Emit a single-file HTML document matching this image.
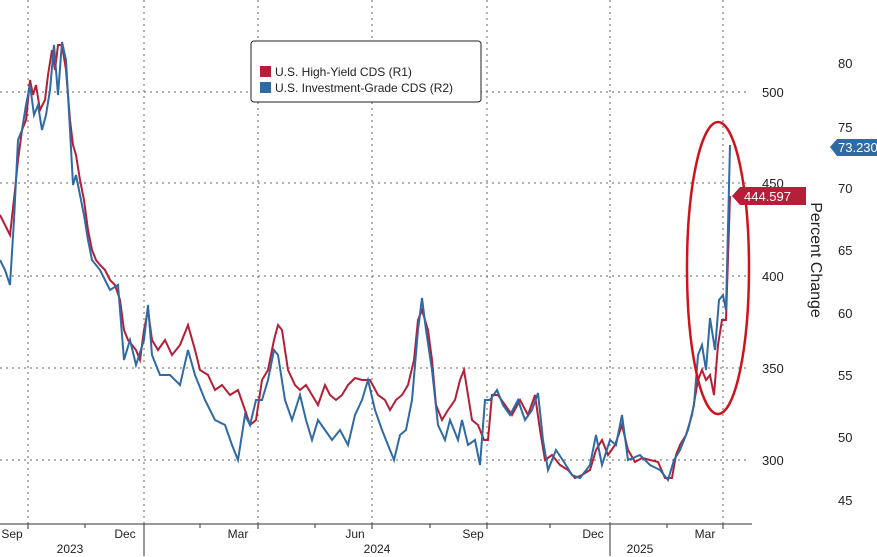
<!DOCTYPE html>
<html><head><style>body{margin:0;background:#fff}svg{display:block}text{font-family:"Liberation Sans",sans-serif;fill:#222}</style></head><body>
<svg width="877" height="557" viewBox="0 0 877 557">
<g stroke="#666" stroke-width="1" stroke-dasharray="2,4">
<line x1="0" y1="92" x2="750" y2="92"/><line x1="0" y1="183" x2="750" y2="183"/><line x1="0" y1="276" x2="750" y2="276"/><line x1="0" y1="368" x2="750" y2="368"/><line x1="0" y1="460" x2="750" y2="460"/>
<line x1="28" y1="0" x2="28" y2="524"/><line x1="144" y1="0" x2="144" y2="524"/><line x1="258" y1="0" x2="258" y2="524"/><line x1="372" y1="0" x2="372" y2="524"/><line x1="487" y1="0" x2="487" y2="524"/><line x1="610" y1="0" x2="610" y2="524"/><line x1="723" y1="0" x2="723" y2="524"/>
</g>
<line x1="0" y1="524" x2="752" y2="524" stroke="#333"/>
<g stroke="#333"><line x1="28" y1="524" x2="28" y2="529"/><line x1="144" y1="524" x2="144" y2="556"/><line x1="258" y1="524" x2="258" y2="529"/><line x1="372" y1="524" x2="372" y2="529"/><line x1="487" y1="524" x2="487" y2="529"/><line x1="610" y1="524" x2="610" y2="556"/><line x1="723" y1="524" x2="723" y2="529"/><line x1="85" y1="524" x2="85" y2="528"/><line x1="200" y1="524" x2="200" y2="528"/><line x1="315" y1="524" x2="315" y2="528"/><line x1="430" y1="524" x2="430" y2="528"/><line x1="550" y1="524" x2="550" y2="528"/><line x1="667" y1="524" x2="667" y2="528"/></g>
<g font-size="12" text-anchor="middle"><text x="12" y="538">Sep</text><text x="125" y="538">Dec</text><text x="238" y="538">Mar</text><text x="355" y="538">Jun</text><text x="473" y="538">Sep</text><text x="593" y="538">Dec</text><text x="705" y="538">Mar</text>
<text x="70" y="553">2023</text><text x="377" y="553">2024</text><text x="640" y="553">2025</text></g>
<g font-size="13"><text x="762" y="97">500</text><text x="762" y="188">450</text><text x="762" y="281">400</text><text x="762" y="373">350</text><text x="762" y="465">300</text>
<text x="838" y="68">80</text><text x="838" y="132">75</text><text x="838" y="193">70</text><text x="838" y="255">65</text><text x="838" y="318">60</text><text x="838" y="380">55</text><text x="838" y="442">50</text><text x="838" y="505">45</text></g>
<text transform="translate(811,260) rotate(90)" font-size="16" text-anchor="middle">Percent Change</text>
<polyline fill="none" stroke="#b51e36" stroke-width="2" points="0,215 5,225 10,235 15,190 18,160 22,130 26,120 30,80 33,95 36,85 40,110 45,100 48,75 52,50 55,70 58,45 62,45 66,70 70,120 73,145 76,155 80,180 84,200 88,230 92,250 96,260 100,265 105,270 110,280 115,285 120,300 124,330 128,340 132,345 136,350 140,360 144,330 148,310 152,340 158,350 165,340 172,355 180,345 188,325 195,350 200,370 208,375 215,390 222,385 230,395 238,390 245,410 250,425 256,420 262,380 268,370 274,340 278,325 282,330 288,370 295,385 300,390 306,385 312,395 318,405 325,385 330,395 336,400 342,395 348,385 355,378 362,380 370,380 378,395 385,400 390,410 396,400 402,395 408,385 414,360 418,320 422,310 428,330 432,360 436,405 442,420 448,410 455,400 460,380 464,370 468,395 472,420 478,425 484,440 488,440 492,395 498,395 505,405 512,415 520,400 528,415 535,395 540,430 545,460 552,455 560,465 568,470 575,478 582,475 590,470 596,450 602,440 608,455 615,445 622,425 628,450 635,462 642,458 650,460 658,462 665,478 672,478 676,455 680,445 686,435 692,415 698,380 702,370 706,380 710,375 714,395 718,345 722,320 726,320 730,196"/>
<polyline fill="none" stroke="#2f6aa3" stroke-width="2" points="0,260 5,270 10,285 14,220 18,140 22,130 26,105 30,85 34,115 38,105 42,130 46,115 50,90 54,45 58,95 62,42 66,60 70,130 73,185 76,175 80,195 84,215 88,240 92,260 100,270 110,290 118,285 124,360 130,340 136,365 144,340 148,305 152,355 160,375 170,375 180,385 188,350 195,375 205,400 215,420 225,425 232,445 238,460 245,415 250,425 256,400 262,400 268,380 274,350 278,355 285,400 292,420 300,395 306,420 312,440 318,420 325,430 332,440 340,430 348,445 355,415 362,400 368,380 375,410 382,430 388,445 394,460 400,435 406,430 412,400 418,330 422,298 426,330 432,370 438,425 445,440 450,420 458,440 462,420 468,445 475,440 480,465 485,400 490,400 497,390 503,405 510,415 518,400 525,420 532,410 538,393 543,440 548,470 556,450 564,462 572,475 580,478 590,465 596,435 602,465 610,440 616,445 622,415 628,460 640,455 650,465 660,470 668,480 674,460 680,450 688,430 694,405 698,355 702,345 706,370 710,318 715,350 719,300 723,295 726,310 730,145"/>
<ellipse cx="718" cy="268" rx="31" ry="146" fill="none" stroke="#d0121b" stroke-width="2.5"/>
<polygon points="732,196 740,187 806,187 806,205 740,205" fill="#b51e36"/><text x="744" y="201" font-size="13" fill="#fff" style="fill:#fff">444.597</text>
<polygon points="830,147 837,139 877,139 877,156 837,156" fill="#2f6aa3"/><text x="838" y="152" font-size="13" style="fill:#fff">73.230</text>
<rect x="251" y="41" width="230" height="61" rx="3" fill="#fff" stroke="#222"/>
<rect x="260" y="66" width="11" height="11" fill="#b51e36"/><rect x="260" y="82" width="11" height="11" fill="#2f6aa3"/>
<text x="275" y="76" font-size="12">U.S. High-Yield CDS (R1)</text><text x="275" y="92" font-size="12">U.S. Investment-Grade CDS (R2)</text>
</svg></body></html>
